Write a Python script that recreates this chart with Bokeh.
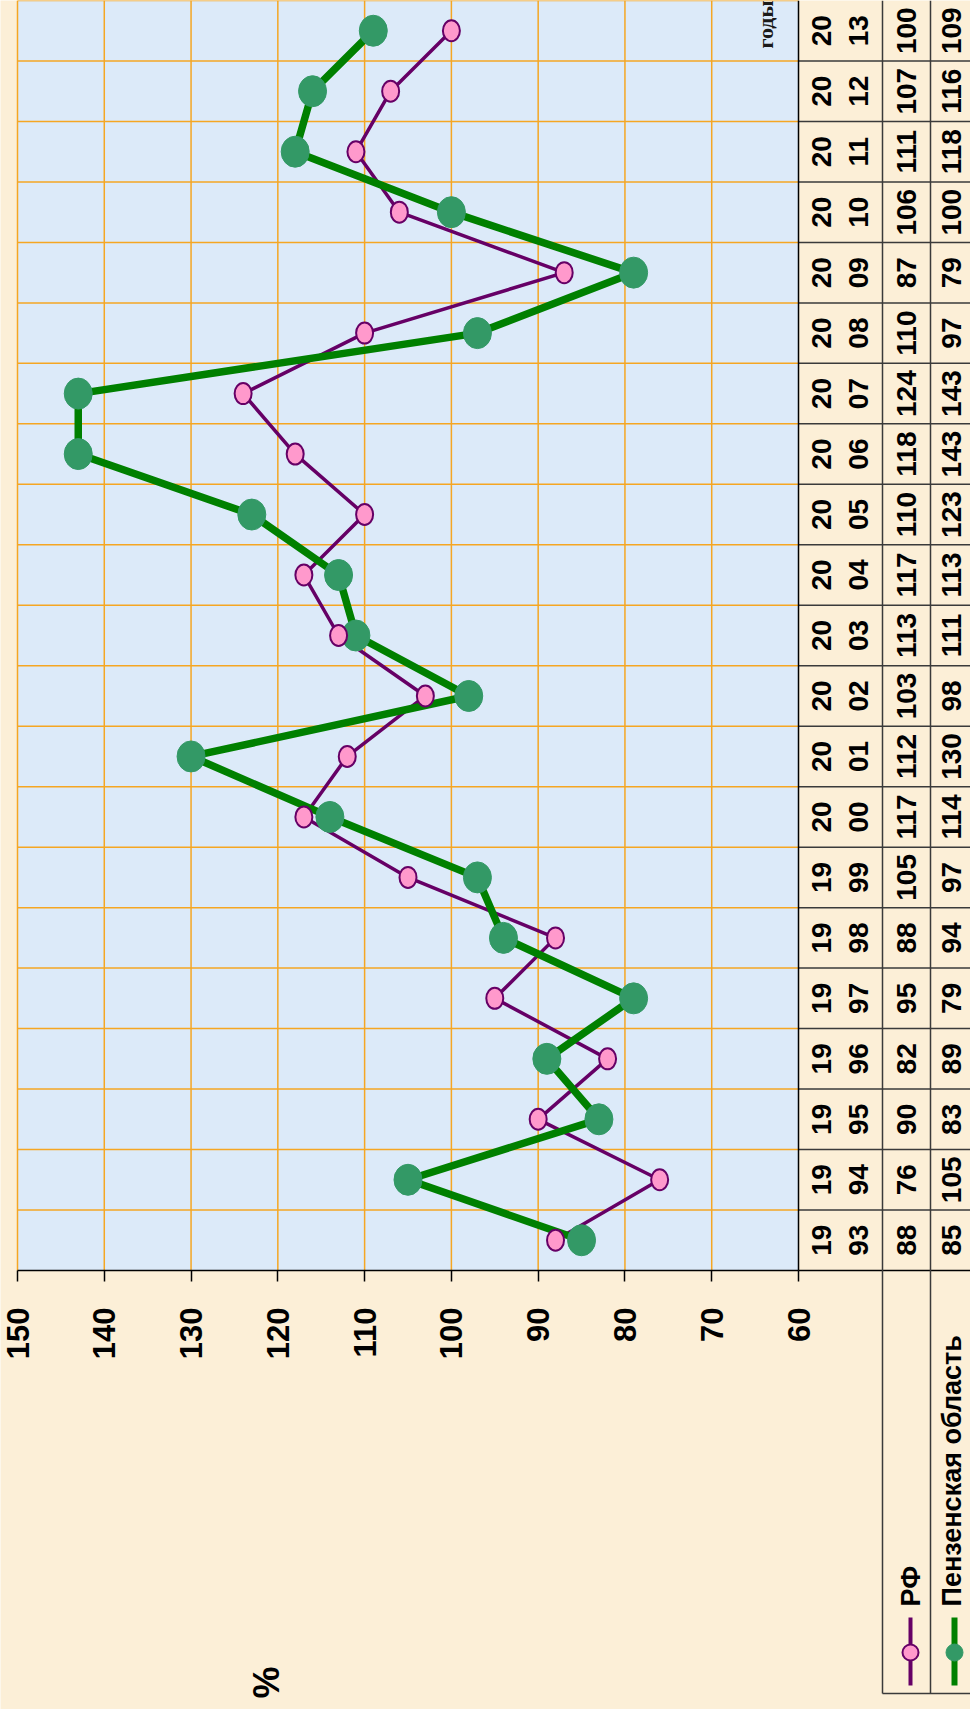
import math
from bokeh.plotting import figure
from bokeh.models import Range1d, LinearAxis, FixedTicker
from bokeh.core.properties import value
from bokeh.embed import file_html
from bokeh.resources import INLINE

# ---------------- data ----------------
years = list(range(1993, 2014))
rf = [88, 76, 90, 82, 95, 88, 105, 117, 112, 103, 113, 117, 110, 118, 124, 110, 87, 106, 111, 107, 100]
penza = [85, 105, 83, 89, 79, 94, 97, 114, 130, 98, 111, 113, 123, 143, 143, 97, 79, 100, 118, 116, 109]
value_ticks = [60, 70, 80, 90, 100, 110, 120, 130, 140, 150]
series_names = ["РФ", "Пензенская область"]
value_title = "%"
year_title = "годы"

# ---------------- styling ----------------
CREAM = "#FCEFD7"
PLOT_BG = "#DCEAF9"
GRID = "#F5A623"
RF_LINE = "#660066"
RF_FILL = "#FF99CC"
PZ_LINE = "#008000"
PZ_FILL = "#339966"
TABLE_LINE = "#3a3a3a"
FONT = "Liberation Sans"

W, H = 970, 1709
VMIN, VMAX = 60, 150
PXX = 781.0 / 90.0          # px per value unit
PXY = 1270.0 / 21.0         # px per year
Y_TOP = years[-1] + 0.5
Y_BOT = years[0] - 0.5
X_LEFT = VMAX + 17.0 / PXX
X_RIGHT = VMIN - 172.0 / PXX
Y_LOW = Y_BOT - 439.0 / PXY


def dx(px):
    """px to the right of the table's left edge -> data x"""
    return VMIN - px / PXX


def dy(py):
    """page y -> data y"""
    return Y_BOT - (py - 1278.0) / PXY


p = figure(width=W, height=H,
           x_range=Range1d(X_LEFT, X_RIGHT), y_range=Range1d(Y_LOW, Y_TOP),
           x_axis_location=None, y_axis_location=None,
           toolbar_location=None, output_backend="svg",
           min_border=0, min_border_left=0, min_border_right=0,
           min_border_top=0, min_border_bottom=0,
           background_fill_color=CREAM, border_fill_color=CREAM,
           outline_line_color=None)
for g in p.grid:
    g.visible = False

# plot area background
p.quad(left=[VMAX], right=[VMIN], bottom=[Y_BOT], top=[Y_TOP],
       fill_color=PLOT_BG, line_color=None)

# grid lines
vt = [t for t in value_ticks if t != VMIN]
p.segment(x0=vt, y0=[Y_BOT] * len(vt), x1=vt, y1=[Y_TOP] * len(vt),
          line_color=GRID, line_width=1.5)
hb = [y + 0.5 for y in years]
p.segment(x0=[VMAX] * len(hb), y0=hb, x1=[VMIN] * len(hb), y1=hb,
          line_color=GRID, line_width=1.5)

# data table lines
rows = [y + 0.5 for y in years[:-1]]
p.segment(x0=[VMIN] * len(rows), y0=rows, x1=[X_RIGHT] * len(rows), y1=rows,
          line_color=TABLE_LINE, line_width=1.5)
p.segment(x0=[VMIN], y0=[Y_BOT], x1=[X_RIGHT], y1=[Y_BOT],
          line_color="black", line_width=1.5)
p.segment(x0=[VMIN], y0=[Y_BOT], x1=[VMIN], y1=[Y_TOP],
          line_color="black", line_width=1.5)
p.segment(x0=[dx(84), dx(132)], y0=[dy(1701)] * 2, x1=[dx(84), dx(132)], y1=[Y_TOP] * 2,
          line_color=TABLE_LINE, line_width=1.5)
p.segment(x0=[dx(84)], y0=[dy(1701)], x1=[X_RIGHT], y1=[dy(1701)],
          line_color=TABLE_LINE, line_width=1.5)

# series
p.line(rf, years, line_color=RF_LINE, line_width=3.5)
p.line(penza, years, line_color=PZ_LINE, line_width=7.5)
p.ellipse(x=penza, y=years, width=28, height=31, width_units="screen", height_units="screen",
          fill_color=PZ_FILL, line_color=PZ_FILL)
p.ellipse(x=rf, y=years, width=17, height=21, width_units="screen", height_units="screen",
          fill_color=RF_FILL, line_color=RF_LINE, line_width=2)

tstyle = dict(angle=math.pi / 2, text_align="center", text_baseline="middle",
              text_font=value(FONT), text_font_style="bold", text_color="black")

# year cells (two lines)
p.text(x=[dx(23)] * len(years), y=years, text=[str(y)[:2] for y in years],
       text_font_size="28px", **tstyle)
p.text(x=[dx(60)] * len(years), y=years, text=[str(y)[2:] for y in years],
       text_font_size="28px", **tstyle)
# value cells
p.text(x=[dx(108)] * len(years), y=years, text=[str(v) for v in rf],
       text_font_size="28px", **tstyle)
p.text(x=[dx(153)] * len(years), y=years, text=[str(v) for v in penza],
       text_font_size="28px", **tstyle)

# axis (value axis, drawn at the bottom of the plot area)
ax = LinearAxis(fixed_location=Y_BOT, ticker=FixedTicker(ticks=value_ticks),
                bounds=(VMIN, VMAX), major_label_orientation=math.pi / 2,
                major_label_text_font=FONT, major_label_text_font_style="bold",
                major_label_text_font_size="31px", major_label_text_color="black",
                major_tick_out=11, major_tick_in=0, minor_tick_out=0, minor_tick_in=0,
                major_label_standoff=26, axis_line_color="black", axis_line_width=1.5,
                major_tick_line_color="black", major_tick_line_width=1.5)
p.add_layout(ax, "below")

# "годы" caption
p.text(x=[VMIN + 33 / PXX], y=[dy(32)], text=[year_title], angle=math.pi / 2,
       text_align="center", text_baseline="middle",
       text_font=value("Liberation Serif"), text_font_style="bold",
       text_font_size="22px", text_color="#1a1a1a")

# "%" title
p.text(x=[VMAX - (274 - 25) / PXX], y=[dy(1690)], text=[value_title],
       text_font_size="36px", **tstyle)

# legend
lx = [dx(112), dx(156)]
tx = [dx(112), dx(153)]
p.segment(x0=[lx[0]], y0=[dy(1625)], x1=[lx[0]], y1=[dy(1693)], line_color=RF_LINE, line_width=4)
p.segment(x0=[lx[1]], y0=[dy(1625)], x1=[lx[1]], y1=[dy(1693)], line_color=PZ_LINE, line_width=6)
p.ellipse(x=[lx[0]], y=[dy(1660)], width=16, height=16, width_units="screen", height_units="screen",
          fill_color=RF_FILL, line_color=RF_LINE, line_width=2)
p.ellipse(x=[lx[1]], y=[dy(1660)], width=17, height=17, width_units="screen", height_units="screen",
          fill_color=PZ_FILL, line_color=PZ_FILL)
p.text(x=tx, y=[dy(1614)] * 2, text=series_names, angle=math.pi / 2,
       text_align="left", text_baseline="middle",
       text_font=value(FONT), text_font_style="bold", text_font_size="27px",
       text_color="black")

open("out.html", "w").write(file_html(p, INLINE))
